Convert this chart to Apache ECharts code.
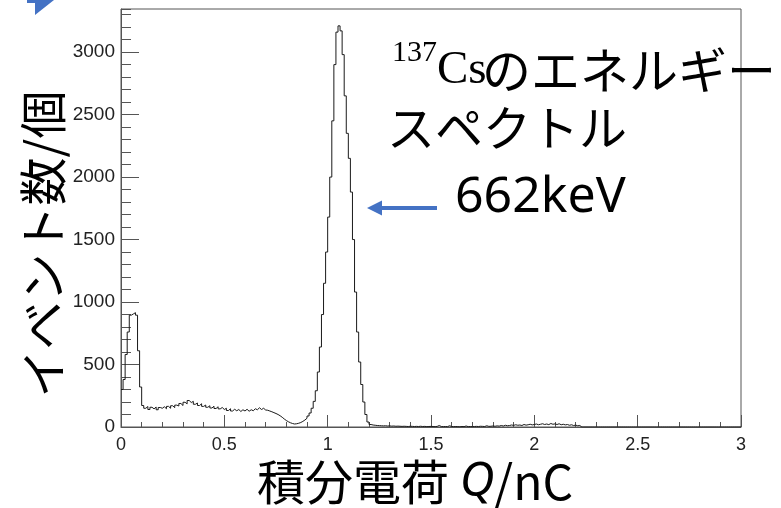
<!DOCTYPE html>
<html>
<head>
<meta charset="utf-8">
<script src="https://cdn.jsdelivr.net/npm/echarts@6/dist/echarts.min.js"></script>
<style>
  html, body { margin: 0; padding: 0; background: #fff; }
  #chart { width: 781px; height: 508px; }
</style>
</head>
<body>
<div id="chart"></div>
<script>
// Histogram binning of the integrated charge (nC)
const binStart = 0;
const binWidth = 0.01;

// Counts per 0.01 nC bin, 0 – 3 nC (300 bins)
const counts = [
  300, 380, 580, 760, 895, 905, 915, 895, 610, 320,
  172, 150, 164, 140, 158, 145, 160, 138, 156, 150,
  162, 146, 165, 150, 170, 155, 175, 168, 188, 172,
  198, 185, 212, 196, 205, 182, 192, 172, 186, 165,
  176, 158, 170, 152, 166, 148, 162, 145, 156, 140,
  150, 132, 146, 128, 142, 130, 140, 124, 138, 128,
  142, 126, 138, 130, 146, 138, 154, 140, 150, 136,
  134, 128, 122, 115, 108, 100, 90, 78, 64, 52,
  42, 34, 28, 24, 26, 30, 36, 45, 56, 70,
  88, 112, 150, 205, 290, 440, 640, 900, 1150, 1400,
  1680, 2000, 2450, 2900, 3160, 3210, 3170, 2980, 2650, 2350,
  2150, 1880, 1500, 1080, 760, 520, 340, 200, 100, 40,
  20, 16, 14, 12, 11, 10, 9, 10, 8, 9,
  7, 8, 6, 7, 6, 5, 6, 5, 4, 6,
  5, 4, 5, 4, 6, 4, 5, 3, 4, 5,
  4, 3, 5, 12, 4, 3, 4, 3, 10, 4,
  3, 4, 3, 2, 4, 3, 8, 3, 4, 3,
  4, 5, 4, 6, 5, 4, 10, 5, 6, 8,
  6, 9, 7, 12, 8, 14, 10, 12, 16, 13,
  18, 14, 16, 12, 20, 15, 18, 22, 17, 20,
  24, 18, 22, 26, 20, 24, 19, 28, 22, 25,
  20, 26, 18, 22, 17, 20, 14, 18, 12, 15,
  10, 12, 0, 0, 0, 0, 0, 0, 0, 0,
  0, 0, 0, 0, 0, 0, 0, 0, 0, 0,
  0, 0, 0, 0, 0, 0, 0, 0, 0, 0,
  0, 0, 0, 0, 0, 0, 0, 0, 0, 0,
  0, 0, 0, 0, 0, 0, 0, 0, 0, 0,
  0, 0, 0, 0, 0, 0, 0, 0, 0, 0,
  0, 0, 0, 0, 0, 0, 0, 0, 0, 0,
  0, 0, 0, 0, 0, 0, 0, 0, 0, 0
];

// Axis ranges and labels
const xRange = [0, 3];
const yRange = [0, 3345];
const xTitle = ['積分電荷 ', 'Q', '/nC'];
const yTitle = 'イベント数/個';
const noteLine1 = ['137', 'Cs', 'のエネルギー'];
const noteLine2 = 'スペクトル';
const peakNote = '662keV';

// Step outline: each bin's left edge with its count, closed at the last edge
const stepData = counts.map((c, i) => [binStart + i * binWidth, c]);
stepData.push([binStart + counts.length * binWidth, counts[counts.length - 1]]);

const frameColor = '#555';
const labelFamily = '"Liberation Sans", Arial, sans-serif';
const plain = v => String(v);
const jp = '"Noto Sans CJK JP", sans-serif';
const blue = '#4472C4';

function note(x, y, text, font) {
  return { type: 'text', x: x, y: y,
    style: { text: text, font: font, fill: '#000', align: 'left', verticalAlign: 'middle', textAlign: 'left', textVerticalAlign: 'middle' } };
}

const chart = echarts.init(document.getElementById('chart'), null, { renderer: 'canvas' });
chart.setOption({
  animation: false,
  backgroundColor: '#fff',
  grid: { left: 121, right: 40, top: 9, bottom: 81, show: true, borderColor: frameColor, borderWidth: 1 },
  xAxis: {
    type: 'value', min: xRange[0], max: xRange[1], interval: 0.5,
    axisLine: { show: true, lineStyle: { color: frameColor, width: 1 } },
    axisTick: { show: true, inside: true, length: 12, lineStyle: { color: frameColor } },
    minorTick: { show: true, splitNumber: 5, length: 5, lineStyle: { color: frameColor } },
    splitLine: { show: false },
    axisLabel: { margin: 9, formatter: plain, color: '#222', fontFamily: labelFamily, fontSize: 18 }
  },
  yAxis: [
    {
      type: 'value', min: yRange[0], max: yRange[1], interval: 500, position: 'left',
      axisLine: { show: true, lineStyle: { color: frameColor, width: 1 } },
      axisTick: { show: true, inside: true, length: 18, lineStyle: { color: frameColor } },
      splitLine: { show: false },
      axisLabel: { margin: 6, showMaxLabel: false, formatter: plain, color: '#222', fontFamily: labelFamily, fontSize: 19 }
    },
    {
      type: 'value', min: yRange[0], max: yRange[1], interval: 100, position: 'left', offset: 0,
      axisLine: { show: false },
      axisTick: { show: true, inside: true, length: 10, lineStyle: { color: frameColor } },
      splitLine: { show: false },
      axisLabel: { show: false }
    }
  ],
  series: [{
    type: 'line',
    step: 'end',
    data: stepData,
    showSymbol: false,
    symbol: 'none',
    lineStyle: { color: '#1a1a1a', width: 1 },
    silent: true
  }],
  graphic: [
    // corner of a blue callout shape at the top left
    { type: 'polygon', shape: { points: [[27, 0], [54, 0], [35, 15], [35, 3], [27, 3]] }, style: { fill: blue } },
    // y-axis title
    { type: 'text', x: 43, y: 244, rotation: Math.PI / 2,
      style: { text: yTitle, font: '48px ' + jp, fill: '#000', align: 'center', verticalAlign: 'middle', textAlign: 'center', textVerticalAlign: 'middle' } },
    // x-axis title
    { type: 'text', x: 415, y: 482,
      style: {
        text: '{a|' + xTitle[0] + '}{q|' + xTitle[1] + '}{a|' + xTitle[2] + '}',
        align: 'center', verticalAlign: 'middle', textAlign: 'center', textVerticalAlign: 'middle',
        fill: '#000',
        rich: {
          a: { fontSize: 48, fontFamily: jp, color: '#000' },
          q: { fontSize: 48, fontFamily: '"Noto Sans", sans-serif', fontStyle: 'italic', color: '#000' }
        }
      } },
    // isotope annotation
    note(392, 53, noteLine1[0], '30px "Liberation Serif", serif'),
    note(437, 71, noteLine1[1], '47px "Liberation Serif", serif'),
    note(482, 70, noteLine1[2], '49px ' + jp),
    note(387, 128, noteLine2, '48px ' + jp),
    // photopeak marker
    { type: 'line', shape: { x1: 437, y1: 208, x2: 380, y2: 208 }, style: { stroke: blue, lineWidth: 4 } },
    { type: 'polygon', shape: { points: [[367, 208], [382, 200.5], [382, 215.5]] }, style: { fill: blue } },
    note(455, 198, peakNote, '50px "Noto Sans", sans-serif')
  ]
});
</script>
</body>
</html>
